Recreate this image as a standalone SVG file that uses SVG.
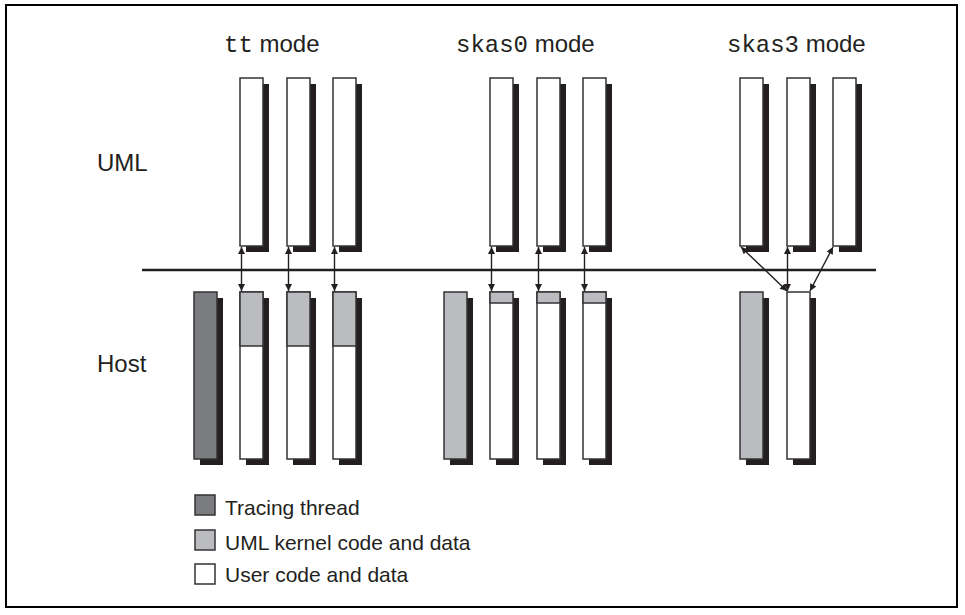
<svg xmlns="http://www.w3.org/2000/svg" width="965" height="615" viewBox="0 0 965 615">
<defs>
<style>
.sh{fill:#231f20;}
.w{fill:#ffffff;stroke:#333333;stroke-width:1.5;}
.lg{fill:#bbbcc0;stroke:#333333;stroke-width:1.5;}
.dg{fill:#7b7c80;stroke:#333333;stroke-width:1.5;}
.sep{stroke:#333333;stroke-width:1.5;}
.t{font-family:"Liberation Sans",Arial,sans-serif;font-size:24px;fill:#231f20;}
.m{font-family:"Liberation Mono","Courier New",monospace;}
.lt{font-family:"Liberation Sans",Arial,sans-serif;font-size:21px;fill:#231f20;}
.ar{stroke:#231f20;stroke-width:1.4;fill:none;marker-start:url(#ah);marker-end:url(#ah);}
</style>
<marker id="ah" viewBox="0 0 10 10" refX="10" refY="5" markerWidth="10" markerHeight="7" markerUnits="userSpaceOnUse" orient="auto-start-reverse">
<path d="M0,0 L10,5 L0,10 z" fill="#231f20"/>
</marker>
</defs>
<rect x="6" y="5" width="951" height="602" fill="#ffffff" stroke="#000000" stroke-width="2"/>

<g id="labels">
<text class="t" x="224" y="52"><tspan class="m">tt</tspan> mode</text>
<text class="t" x="456" y="52"><tspan class="m">skas0</tspan> mode</text>
<text class="t" x="727" y="52"><tspan class="m">skas3</tspan> mode</text>
<text class="t" x="97" y="171">UML</text>
<text class="t" x="97" y="372">Host</text>
</g>

<line id="boundary" x1="142" y1="270" x2="876" y2="270" stroke="#231f20" stroke-width="2.5"/>

<g id="tt-uml-1"><rect class="sh" x="246" y="84" width="23" height="168"/><rect class="w" x="240" y="78" width="23" height="168"/></g>
<g id="tt-uml-2"><rect class="sh" x="293" y="84" width="23" height="168"/><rect class="w" x="287" y="78" width="23" height="168"/></g>
<g id="tt-uml-3"><rect class="sh" x="339" y="84" width="23" height="168"/><rect class="w" x="333" y="78" width="23" height="168"/></g>

<g id="skas0-uml-1"><rect class="sh" x="496" y="84" width="23" height="168"/><rect class="w" x="490" y="78" width="23" height="168"/></g>
<g id="skas0-uml-2"><rect class="sh" x="543" y="84" width="23" height="168"/><rect class="w" x="537" y="78" width="23" height="168"/></g>
<g id="skas0-uml-3"><rect class="sh" x="589" y="84" width="23" height="168"/><rect class="w" x="583" y="78" width="23" height="168"/></g>

<g id="skas3-uml-1"><rect class="sh" x="746" y="84" width="23" height="168"/><rect class="w" x="740" y="78" width="23" height="168"/></g>
<g id="skas3-uml-2"><rect class="sh" x="793" y="84" width="23" height="168"/><rect class="w" x="787" y="78" width="23" height="168"/></g>
<g id="skas3-uml-3"><rect class="sh" x="839" y="84" width="23" height="168"/><rect class="w" x="833" y="78" width="23" height="168"/></g>

<g id="tt-host-tracing"><rect class="sh" x="200" y="298" width="23" height="167"/><rect class="dg" x="194" y="292" width="23" height="167"/></g>
<g id="tt-host-1"><rect class="sh" x="246" y="298" width="23" height="167"/><rect class="w" x="240" y="292" width="23" height="167"/><rect class="lg" x="240" y="292" width="23" height="54"/></g>
<g id="tt-host-2"><rect class="sh" x="293" y="298" width="23" height="167"/><rect class="w" x="287" y="292" width="23" height="167"/><rect class="lg" x="287" y="292" width="23" height="54"/></g>
<g id="tt-host-3"><rect class="sh" x="339" y="298" width="23" height="167"/><rect class="w" x="333" y="292" width="23" height="167"/><rect class="lg" x="333" y="292" width="23" height="54"/></g>

<g id="skas0-host-kernel"><rect class="sh" x="450" y="298" width="23" height="167"/><rect class="lg" x="444" y="292" width="23" height="167"/></g>
<g id="skas0-host-1"><rect class="sh" x="496" y="298" width="23" height="167"/><rect class="w" x="490" y="292" width="23" height="167"/><rect class="lg" x="490" y="292" width="23" height="11"/></g>
<g id="skas0-host-2"><rect class="sh" x="543" y="298" width="23" height="167"/><rect class="w" x="537" y="292" width="23" height="167"/><rect class="lg" x="537" y="292" width="23" height="11"/></g>
<g id="skas0-host-3"><rect class="sh" x="589" y="298" width="23" height="167"/><rect class="w" x="583" y="292" width="23" height="167"/><rect class="lg" x="583" y="292" width="23" height="11"/></g>

<g id="skas3-host-kernel"><rect class="sh" x="746" y="298" width="23" height="167"/><rect class="lg" x="740" y="292" width="23" height="167"/></g>
<g id="skas3-host-user"><rect class="sh" x="793" y="298" width="23" height="167"/><rect class="w" x="787" y="292" width="23" height="167"/></g>

<g id="connectors">
<line class="ar" x1="241.5" y1="247" x2="241.5" y2="291"/>
<line class="ar" x1="288.5" y1="247" x2="288.5" y2="291"/>
<line class="ar" x1="334.5" y1="247" x2="334.5" y2="291"/>
<line class="ar" x1="491.5" y1="247" x2="491.5" y2="291"/>
<line class="ar" x1="538.5" y1="247" x2="538.5" y2="291"/>
<line class="ar" x1="584.5" y1="247" x2="584.5" y2="291"/>
<line class="ar" x1="741" y1="247" x2="787" y2="291"/>
<line class="ar" x1="787.5" y1="247" x2="787.5" y2="291"/>
<line class="ar" x1="833" y1="247" x2="810" y2="291"/>
</g>

<g id="legend">
<rect class="dg" x="195" y="495" width="20" height="20"/>
<text class="lt" x="225" y="515">Tracing thread</text>
<rect class="lg" x="195" y="530" width="20" height="20"/>
<text class="lt" x="225" y="550">UML kernel code and data</text>
<rect class="w" x="195" y="564" width="20" height="20"/>
<text class="lt" x="225" y="582">User code and data</text>
</g>
</svg>
